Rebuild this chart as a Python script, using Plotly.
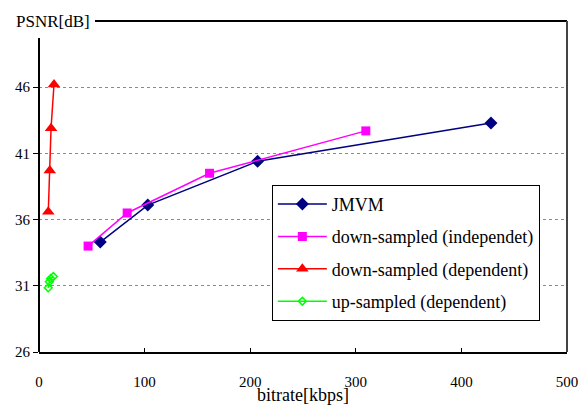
import plotly.graph_objects as go

x_ticks = [0, 100, 200, 300, 400, 500]
y_ticks = [26, 31, 36, 41, 46]

jmvm_x = [58, 103, 207, 428]
jmvm_y = [34.3, 37.1, 40.4, 43.3]

down_ind_x = [46.5, 83.5, 161.5, 309.5]
down_ind_y = [34.0, 36.5, 39.5, 42.7]

down_dep_x = [8.8, 10.2, 11.4, 14.2]
down_dep_y = [36.6, 39.7, 42.9, 46.2]

up_dep_x = [8.8, 9.8, 11.1, 13.6]
up_dep_y = [30.85, 31.3, 31.55, 31.7]

serif = "Liberation Serif"

fig = go.Figure()
fig.add_trace(go.Scatter(x=jmvm_x, y=jmvm_y, name="JMVM", mode="lines+markers",
                         line=dict(color="#000080", width=1.5),
                         marker=dict(symbol="diamond", size=10, color="#000080"),
                         legendgroup="a"))
fig.add_trace(go.Scatter(x=down_ind_x, y=down_ind_y, name="down-sampled (independet)",
                         mode="lines+markers",
                         line=dict(color="#FF00FF", width=1.5),
                         marker=dict(symbol="square", size=9, color="#FF00FF"),
                         legendgroup="b"))
fig.add_trace(go.Scatter(x=down_dep_x, y=down_dep_y, name="down-sampled (dependent)",
                         mode="lines+markers",
                         line=dict(color="#FF0000", width=1.5),
                         marker=dict(symbol="triangle-up", size=11, color="#FF0000"),
                         legendgroup="c"))
fig.add_trace(go.Scatter(x=up_dep_x, y=up_dep_y, name="up-sampled (dependent)",
                         mode="lines+markers",
                         line=dict(color="#00FF00", width=1.5),
                         marker=dict(symbol="diamond-open", size=6, color="#00FF00",
                                     line=dict(width=1.5)),
                         legendgroup="d"))

fig.update_layout(
    width=579, height=405,
    margin=dict(l=39, r=12, t=21, b=53),
    paper_bgcolor="white", plot_bgcolor="white",
    font=dict(family=serif, size=15, color="black"),
    showlegend=True,
    legend=dict(x=0.441, y=0.505, xanchor="left", yanchor="top",
                bordercolor="black", borderwidth=1, bgcolor="white",
                font=dict(family=serif, size=18),
                itemwidth=49,
                traceorder="grouped", tracegroupgap=6),
    xaxis=dict(range=[0, 500], tickvals=x_ticks, showgrid=False,
               showline=True, linecolor="black", linewidth=2,
               ticks="inside", ticklen=4, tickcolor="black",
               ticklabelstandoff=15, zeroline=False, automargin=False,
               tickfont=dict(family=serif, size=15),
               title=dict(text="bitrate[kbps]", standoff=0,
                          font=dict(family=serif, size=18))),
    yaxis=dict(range=[26, 51], tickvals=y_ticks, showgrid=True,
               gridcolor="#8a8a8a", griddash="dot", gridwidth=1,
               showline=False, ticks="outside", ticklen=5, tickcolor="black",
               zeroline=False, automargin=False,
               tickfont=dict(family=serif, size=15)),
)

# borders (open at top-left corner like the original)
fig.add_shape(type="line", xref="paper", yref="paper", x0=0, x1=0, y0=0, y1=0.949,
              line=dict(color="black", width=2))
fig.add_shape(type="line", xref="paper", yref="paper", x0=0.106, x1=1, y0=1, y1=1,
              line=dict(color="black", width=2))
fig.add_shape(type="line", xref="paper", yref="paper", x0=1, x1=1, y0=0, y1=1,
              line=dict(color="#444444", width=2))

fig.add_annotation(text="PSNR[dB]", xref="paper", yref="paper", x=-0.048, y=1,
                   xanchor="left", yanchor="middle", showarrow=False,
                   font=dict(family=serif, size=17))

fig.write_html("out.html", config={"displayModeBar": False},
               post_script="document.body.style.margin='0';")
